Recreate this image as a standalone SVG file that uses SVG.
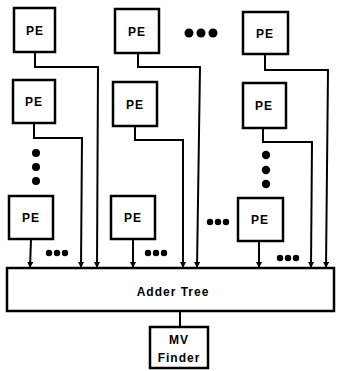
<svg xmlns="http://www.w3.org/2000/svg" width="337" height="371" viewBox="0 0 337 371">
<defs>
<style>
.box{fill:#fff;stroke:#000;stroke-width:2.5}
.wire{fill:none;stroke:#000;stroke-width:2}
.lbl{font-family:"Liberation Sans",Arial,sans-serif;font-weight:bold;font-size:12px;letter-spacing:1px;text-anchor:middle;fill:#000}
.dot{fill:#000}
</style>
<marker id="ah" viewBox="0 0 6 6" refX="3" refY="6" markerWidth="6" markerHeight="6" markerUnits="userSpaceOnUse" orient="auto-start-reverse">
<path d="M0,0 L6,0 L3,6 Z" fill="#000" transform="rotate(-90 3 3)"/>
</marker>
<marker id="arr" viewBox="0 0 6 6" refX="6" refY="3" markerWidth="6" markerHeight="6" markerUnits="userSpaceOnUse" orient="auto">
<path d="M0,0 L6,3 L0,6 Z" fill="#000"/>
</marker>
</defs>
<rect width="337" height="371" fill="#fff"/>
<g id="connectors">
<polyline class="wire" marker-end="url(#arr)" points="35,52 35,67 98,67 97,268"/>
<polyline class="wire" marker-end="url(#arr)" points="34,123 34,138 82,138 81,268"/>
<polyline class="wire" marker-end="url(#arr)" points="31,239 30,268"/>
<polyline class="wire" marker-end="url(#arr)" points="138,53 138,67 200,67 197,268"/>
<polyline class="wire" marker-end="url(#arr)" points="135,126 135,140 183,140 183,268"/>
<polyline class="wire" marker-end="url(#arr)" points="133,239 133,268"/>
<polyline class="wire" marker-end="url(#arr)" points="265,54 265,70 328,70 326,268"/>
<polyline class="wire" marker-end="url(#arr)" points="263,128 263,142 312,142 311,268"/>
<polyline class="wire" marker-end="url(#arr)" points="259,241 259,268"/>
<line class="wire" x1="180" y1="311" x2="180" y2="327"/>
</g>
<g id="pe-1-1"><rect class="box" x="14" y="8" width="41" height="44"/><text class="lbl" x="35" y="35">PE</text></g>
<g id="pe-1-2"><rect class="box" x="13" y="80" width="42" height="43"/><text class="lbl" x="34" y="106">PE</text></g>
<g id="pe-1-n"><rect class="box" x="9" y="196" width="44" height="43"/><text class="lbl" x="31" y="222">PE</text></g>
<g id="pe-2-1"><rect class="box" x="115" y="9" width="44" height="44"/><text class="lbl" x="137" y="36">PE</text></g>
<g id="pe-2-2"><rect class="box" x="113" y="82" width="44" height="44"/><text class="lbl" x="135" y="109">PE</text></g>
<g id="pe-2-n"><rect class="box" x="111" y="196" width="44" height="43"/><text class="lbl" x="133" y="222">PE</text></g>
<g id="pe-3-1"><rect class="box" x="243" y="12" width="45" height="42"/><text class="lbl" x="265" y="38">PE</text></g>
<g id="pe-3-2"><rect class="box" x="243" y="83" width="43" height="45"/><text class="lbl" x="264" y="110">PE</text></g>
<g id="pe-3-n"><rect class="box" x="238" y="198" width="45" height="43"/><text class="lbl" x="260" y="224">PE</text></g>
<g id="dots">
<circle class="dot" cx="36" cy="153" r="4"/><circle class="dot" cx="36" cy="167" r="4"/><circle class="dot" cx="36" cy="181" r="4"/>
<circle class="dot" cx="266" cy="155" r="4.2"/><circle class="dot" cx="266" cy="170" r="4.2"/><circle class="dot" cx="266" cy="184" r="4.2"/>
<circle class="dot" cx="189" cy="33" r="4.5"/><circle class="dot" cx="201" cy="33" r="4.5"/><circle class="dot" cx="213" cy="33" r="4.5"/>
<circle class="dot" cx="49" cy="253" r="3.2"/><circle class="dot" cx="57" cy="253" r="3.2"/><circle class="dot" cx="65" cy="253" r="3.2"/>
<circle class="dot" cx="148" cy="253" r="3.2"/><circle class="dot" cx="156" cy="253" r="3.2"/><circle class="dot" cx="164" cy="253" r="3.2"/>
<circle class="dot" cx="210" cy="222" r="3.2"/><circle class="dot" cx="218" cy="222" r="3.2"/><circle class="dot" cx="226" cy="222" r="3.2"/>
<circle class="dot" cx="280" cy="258" r="3.2"/><circle class="dot" cx="288" cy="258" r="3.2"/><circle class="dot" cx="296" cy="258" r="3.2"/>
</g>
<g id="adder-tree"><rect class="box" x="7" y="268" width="327" height="43"/><text class="lbl" x="173" y="296">Adder Tree</text></g>
<g id="mv-finder"><rect class="box" x="150" y="327" width="58" height="41"/><text class="lbl" x="179" y="344">MV</text><text class="lbl" x="179" y="362">Finder</text></g>
</svg>
